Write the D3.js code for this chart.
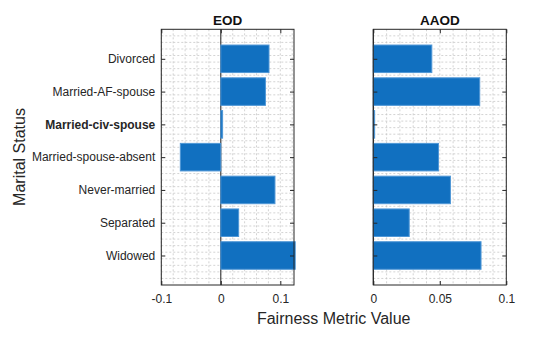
<!DOCTYPE html>
<html><head><meta charset="utf-8">
<script src="https://cdn.jsdelivr.net/npm/d3@7"></script>
<style>body{margin:0;background:#fff}text{font-family:"Liberation Sans",Arial,sans-serif}</style>
</head><body>
<script>
const categories = ["Divorced","Married-AF-spouse","Married-civ-spouse","Married-spouse-absent","Never-married","Separated","Widowed"];
const eodValues = [0.081, 0.075, 0.003, -0.068, 0.091, 0.030, 0.125];
const aaodValues = [0.044, 0.080, 0.001, 0.049, 0.058, 0.027, 0.081];
const eodTicks = [-0.1, 0, 0.1];
const eodTickLabels = ["-0.1","0","0.1"];
const aaodTicks = [0, 0.05, 0.1];
const aaodTickLabels = ["0","0.05","0.1"];
const boldCategory = "Married-civ-spouse";

const W = 560, H = 337;
const svg = d3.select("body").append("svg").attr("width", W).attr("height", H);
const plotTop = 29.3, plotBottom = 285;
const y = d3.scaleLinear().domain([0.1, 7.9]).range([plotTop, plotBottom]);
const barH = y(1.84) - y(1);

function panel(x0, x1, domain, values, ticks, tickLabels, minorStep, title, showY) {
  const x = d3.scaleLinear().domain(domain).range([x0, x1]);
  const g = svg.append("g");
  const vg = [];
  for (let k = Math.ceil(domain[0] / minorStep - 1e-6); k * minorStep <= domain[1] + 1e-9; k++) vg.push(+(k * minorStep).toFixed(6));
  g.selectAll("line.vg").data(vg).enter().append("line")
    .attr("x1", d => x(d)).attr("x2", d => x(d)).attr("y1", plotTop).attr("y2", plotBottom)
    .attr("stroke", "#c8c8c8").attr("stroke-width", 0.8).attr("stroke-dasharray", "2,2");
  const hg = d3.range(1, 39).map(i => +(0.1 + i * 0.2).toFixed(4)).filter(v => v < 7.9);
  g.selectAll("line.hg").data(hg).enter().append("line")
    .attr("y1", d => y(d)).attr("y2", d => y(d)).attr("x1", x0).attr("x2", x1)
    .attr("stroke", "#c8c8c8").attr("stroke-width", 0.8).attr("stroke-dasharray", "2,2");
  g.append("line").attr("x1", x(0)).attr("x2", x(0)).attr("y1", plotTop).attr("y2", plotBottom)
    .attr("stroke", "#222").attr("stroke-width", 1);
  g.selectAll("rect.bar").data(values).enter().append("rect")
    .attr("x", d => Math.min(x(0), x(d)))
    .attr("width", d => Math.max(Math.abs(x(d) - x(0)), 0.8))
    .attr("y", (d, i) => y(i + 1) - barH / 2)
    .attr("height", barH)
    .attr("fill", "#1170c0").attr("stroke", "#4f97d6").attr("stroke-width", 1);
  g.append("rect").attr("x", x0).attr("y", plotTop).attr("width", x1 - x0).attr("height", plotBottom - plotTop)
    .attr("fill", "none").attr("stroke", "#262626").attr("stroke-width", 1);
  const xb = d3.axisBottom(x).tickValues(ticks).tickSize(-4).tickPadding(9).tickFormat((d, i) => tickLabels[i]);
  const ax = g.append("g").attr("transform", `translate(0,${plotBottom})`).call(xb);
  ax.select(".domain").remove();
  ax.selectAll("line").attr("stroke", "#262626");
  ax.selectAll("text").attr("font-size", 12).attr("fill", "#262626");
  const xt = d3.axisTop(x).tickValues(ticks).tickSize(-4).tickFormat("");
  const axt = g.append("g").attr("transform", `translate(0,${plotTop})`).call(xt);
  axt.select(".domain").remove();
  axt.selectAll("line").attr("stroke", "#262626");
  const yl = d3.axisLeft(y).tickValues(d3.range(1, 8)).tickSize(-4).tickPadding(6)
    .tickFormat(d => showY ? categories[d - 1] : "");
  const ayl = g.append("g").attr("transform", `translate(${x0},0)`).call(yl);
  ayl.select(".domain").remove();
  ayl.selectAll("line").attr("stroke", "#262626");
  ayl.selectAll("text").attr("font-size", 12).attr("fill", "#262626")
    .attr("font-weight", d => categories[d - 1] === boldCategory ? "bold" : "normal");
  const yr = d3.axisRight(y).tickValues(d3.range(1, 8)).tickSize(-4).tickFormat("");
  const ayr = g.append("g").attr("transform", `translate(${x1},0)`).call(yr);
  ayr.select(".domain").remove();
  ayr.selectAll("line").attr("stroke", "#262626");
  g.append("text").attr("x", (x0 + x1) / 2).attr("y", 25).attr("text-anchor", "middle")
    .attr("font-size", 13.5).attr("font-weight", "bold").attr("fill", "#111").text(title);
}

panel(161.3, 294, [-0.1, 0.123], eodValues, eodTicks, eodTickLabels, 0.02, "EOD", true);
panel(373.3, 506.3, [0, 0.1], aaodValues, aaodTicks, aaodTickLabels, 0.01, "AAOD", false);

svg.append("text").attr("x", 333.7).attr("y", 324.3).attr("text-anchor", "middle")
  .attr("font-size", 16).attr("fill", "#262626").text("Fairness Metric Value");
svg.append("text").attr("transform", "translate(24.5,157) rotate(-90)").attr("text-anchor", "middle")
  .attr("font-size", 16).attr("fill", "#262626").text("Marital Status");
</script>
</body></html>
